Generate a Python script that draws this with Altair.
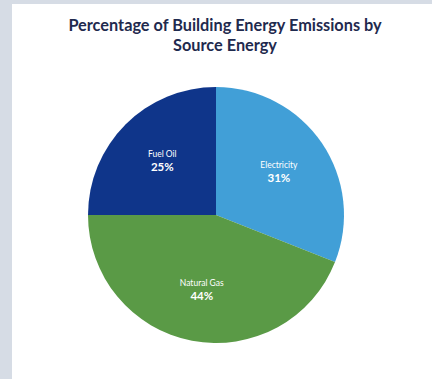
import altair as alt
import pandas as pd

categories = ["Electricity", "Natural Gas", "Fuel Oil"]
values = [31, 44, 25]
pct_labels = ["31%", "44%", "25%"]
colors = ["#419fd7", "#5a9a46", "#0f358a"]
order_idx = [0, 1, 2]

df = pd.DataFrame({
    "category": categories,
    "value": values,
    "pct": pct_labels,
    "idx": order_idx,
})

theta = alt.Theta("value:Q", stack=True)
color = alt.Color("category:N", scale=alt.Scale(domain=categories, range=colors), legend=None)
order = alt.Order("idx:Q")

base = alt.Chart(df)

panel = base.mark_rect(color="white").encode(
    x=alt.value(12), x2=alt.value(432), y=alt.value(-47), y2=alt.value(330)
).transform_filter("datum.idx == 0")

pie = base.mark_arc(outerRadius=128, stroke=None).encode(
    theta=theta, color=color, order=order
)

names = base.mark_text(radius=76, dy=-7, fontSize=8.5, font="Lato", color="white").encode(
    theta=theta, order=order, text="category:N"
)
pcts = base.mark_text(radius=76, dy=7, fontSize=11.5, font="Lato", fontWeight="bold", color="white").encode(
    theta=theta, order=order, text="pct:N"
)

chart = alt.layer(panel, pie, names, pcts).properties(
    width=432,
    height=328,
    title=alt.Title(
        ["Percentage of Building Energy Emissions by", "Source Energy"],
        fontSize=16.3,
        font="Lato",
        fontWeight="bold",
        color="#1f2a4e",
        anchor="middle",
        frame="group",
        lineHeight=20,
        offset=-50,
        dx=9,
    ),
    autosize=alt.AutoSizeParams(type="none"),
    padding={"left": 0, "top": 51, "right": 0, "bottom": 0},
    background="#d6dce5",
).configure_view(stroke=None)

chart.save("out.html", embed_options={"renderer": "svg", "actions": False})
